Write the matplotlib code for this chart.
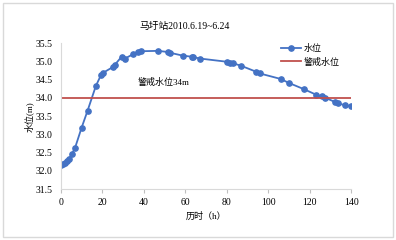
import matplotlib.pyplot as plt
from matplotlib.patches import Rectangle

plt.rcParams['font.family'] = ['Liberation Serif', 'Noto Sans CJK SC']

# hours since start and water level (m)
hours = [0, 1, 2, 3, 4, 5.3, 6.9, 10.1, 13, 17, 19.4, 20.2, 25.3, 26, 29.4, 31,
         35, 37.4, 38.7, 47, 51.5, 52.5, 58.8, 63.1, 63.9, 67.1, 80.3, 81.6, 83.1,
         87, 94.1, 96, 106, 110, 117.2, 123, 125.7, 127.3, 132.1, 133.7, 137, 140]
level = [32.15, 32.18, 32.22, 32.27, 32.33, 32.45, 32.62, 33.18, 33.65, 34.33, 34.62,
         34.68, 34.85, 34.9, 35.13, 35.08, 35.2, 35.27, 35.28, 35.29, 35.26, 35.24,
         35.16, 35.13, 35.12, 35.08, 34.99, 34.97, 34.95, 34.88, 34.72, 34.67, 34.52,
         34.41, 34.24, 34.09, 34.04, 34.01, 33.89, 33.85, 33.8, 33.77]
warn_x = [0, 140]
warn_y = [34.0, 34.0]

fig = plt.figure(figsize=(3.96, 2.40), dpi=100)
fig.patches.append(Rectangle((0.008, 0.012), 0.984, 0.976, transform=fig.transFigure,
                             fill=False, edgecolor='#d9d9d9', linewidth=1.0))
ax = fig.add_axes([0.153, 0.212, 0.734, 0.608])

ax.plot(hours, level, color='#4472C4', marker='o', markersize=3.8, linewidth=1.3, label='水位')
ax.plot(warn_x, warn_y, color='#C0504D', linewidth=1.3, label='警戒水位')

ax.set_xlim(0, 140)
ax.set_ylim(31.5, 35.5)
ax.set_xticks([0, 20, 40, 60, 80, 100, 120, 140])
ax.set_yticks([31.5, 32.0, 32.5, 33.0, 33.5, 34.0, 34.5, 35.0, 35.5])
ax.set_yticklabels(['31.5', '32.0', '32.5', '33.0', '33.5', '34.0', '34.5', '35.0', '35.5'])
ax.tick_params(axis='both', labelsize=7)
ax.tick_params(axis='x', direction='out', length=3, color='#bfbfbf')
ax.tick_params(axis='y', length=0, pad=6)
for s in ['top', 'right']:
    ax.spines[s].set_visible(False)
ax.spines['left'].set_color('#d9d9d9')
ax.spines['bottom'].set_color('#d9d9d9')

ax.text(37, 34.41, '警戒水位34m', fontsize=6.5, va='center')
fig.text(0.467, 0.89, '马圩站2010.6.19~6.24', fontsize=7, ha='center', va='center')
ax.set_ylabel('水位(m)', fontsize=6.5, labelpad=1)
ax.set_xlabel('历时（h）', fontsize=6.5, labelpad=3)

ax.legend(loc='upper left', bbox_to_anchor=(0.73, 1.05), frameon=False, fontsize=6.5,
          handlelength=2.2, handletextpad=0.3, labelspacing=0.5)

fig.savefig('out.png', dpi=100)
